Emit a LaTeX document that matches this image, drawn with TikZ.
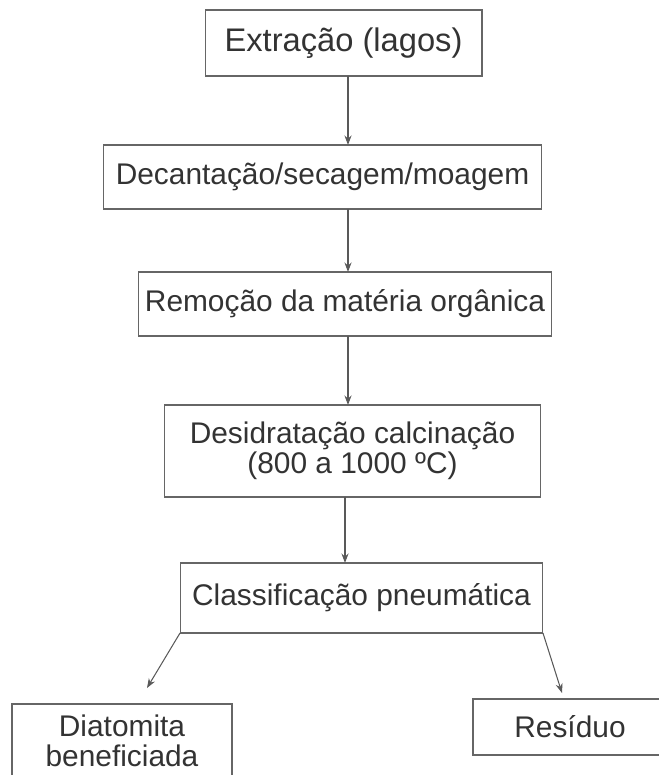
\documentclass[tikz,border=0pt]{standalone}
\usepackage{fontspec}
\setmainfont{Liberation Sans}
\usetikzlibrary{arrows.meta}
\tikzset{
  caixa/.style={draw=black!60,line width=0.6pt,inner sep=0pt,outer sep=0pt,text=black!80,align=center,font=\fontsize{17}{17.2}\selectfont},
  seta/.style={draw=black!65,line width=0.6pt,-{Stealth[length=1.9mm,width=1.4mm]}}
}
\begin{document}
\begin{tikzpicture}[x=0.02cm,y=-0.02cm]
\useasboundingbox (0,0) rectangle (659,775);
\clip (0,0) rectangle (659,775);
\coordinate (eixo) at (348,0);                       % column of the vertical arrows
\node[caixa,minimum width=5.54cm,minimum height=1.32cm,font=\fontsize{18.6}{20}\selectfont] (extracao) at (343.5,43) {Extração (lagos)};
\node[caixa,minimum width=8.78cm,minimum height=1.28cm] (decantacao) at (322.5,177) {Decantação/secagem/moagem};
\node[caixa,minimum width=8.28cm,minimum height=1.28cm] (remocao) at (345,304) {Remoção da matéria orgânica};
\node[caixa,minimum width=7.54cm,minimum height=1.84cm] (desidratacao) at (352.5,451) {Desidratação calcinação\\(800 a 1000 ºC)};
\node[caixa,minimum width=7.26cm,minimum height=1.40cm] (classificacao) at (361.5,598) {Classificação pneumática};
\node[caixa,minimum width=4.40cm,minimum height=1.48cm] (diatomita) at (122,741) {Diatomita\\beneficiada}; % runs off the bottom
\node[caixa,minimum width=3.88cm,minimum height=1.12cm] (residuo) at (570,727) {Resíduo};          % runs off the right
\coordinate (pdiatomita) at (147,688);
\coordinate (presiduo) at (562,693);
\draw[seta] (extracao.south -| eixo) -- (decantacao.north -| eixo);
\draw[seta] (decantacao.south -| eixo) -- (remocao.north -| eixo);
\draw[seta] (remocao.south -| eixo) -- (desidratacao.north -| eixo);
\draw[seta] ([xshift=-0.06cm]desidratacao.south -| eixo) -- ([xshift=-0.06cm]classificacao.north -| eixo);
\draw[seta] (classificacao.south west) -- (pdiatomita);
\draw[seta] (classificacao.south east) -- (presiduo);
\end{tikzpicture}
\end{document}
